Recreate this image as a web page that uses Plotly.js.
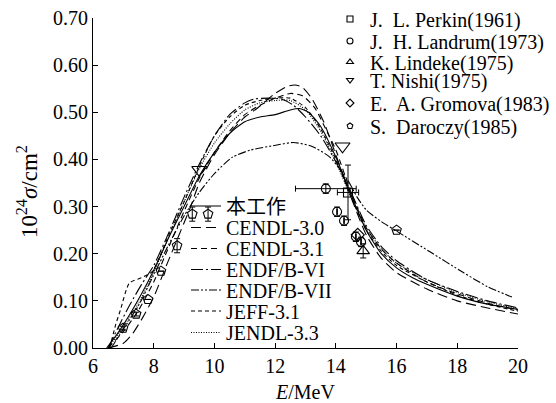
<!DOCTYPE html>
<html><head><meta charset="utf-8">
<script src="https://cdn.plot.ly/plotly-3.0.1.min.js"></script>
<style>html,body{margin:0;padding:0;background:#fff;}#chart{width:556px;height:403px;}</style>
</head><body><div id="chart"></div>
<script>
// ---------- evaluated curves (E in MeV, sigma in 1e-24 cm^2) ----------
const thisWorkE   = [6.45, 6.8, 7.2, 7.6, 8.0, 8.5, 9.0, 9.5, 10.0, 10.5, 11.0, 11.5, 12.0, 12.5, 12.8, 13.1, 13.5, 14.0, 14.5, 15.0, 15.5, 16.0, 16.5, 17.0, 18.0, 19.0, 20.0];
const thisWorkSig = [0, 0.03, 0.07, 0.115, 0.165, 0.235, 0.30, 0.365, 0.415, 0.455, 0.48, 0.49, 0.495, 0.505, 0.508, 0.50, 0.47, 0.405, 0.325, 0.25, 0.20, 0.17, 0.15, 0.135, 0.11, 0.093, 0.082];

const cendl30E   = [6.5, 7.0, 7.3, 7.65, 8.0, 8.45, 8.9, 9.2, 9.5, 10.0, 10.5, 11.0, 11.4, 12.0, 12.4, 12.65, 12.9, 13.2, 13.6, 14.0, 14.5, 15.0, 15.5, 16.0, 17.0, 18.0, 19.0, 20.0];
const cendl30Sig = [0, 0.01, 0.03, 0.066, 0.108, 0.18, 0.25, 0.297, 0.35, 0.41, 0.455, 0.49, 0.508, 0.54, 0.555, 0.558, 0.553, 0.53, 0.48, 0.41, 0.32, 0.24, 0.19, 0.16, 0.125, 0.10, 0.085, 0.072];

const cendl31E   = [6.5, 7.0, 7.5, 8.0, 8.5, 9.0, 9.5, 10.0, 10.5, 11.0, 11.5, 12.0, 12.5, 12.9, 13.3, 13.7, 14.0, 14.5, 15.0, 15.5, 16.0, 17.0, 18.0, 19.0, 20.0];
const cendl31Sig = [0, 0.035, 0.08, 0.14, 0.215, 0.29, 0.36, 0.415, 0.46, 0.495, 0.515, 0.53, 0.54, 0.535, 0.51, 0.46, 0.42, 0.33, 0.255, 0.21, 0.18, 0.14, 0.115, 0.095, 0.08];

const endf6E   = [6.5, 6.8, 7.2, 7.6, 8.0, 8.5, 9.0, 9.5, 10.0, 10.5, 11.0, 11.3, 11.8, 12.2, 12.6, 13.0, 13.5, 14.0, 14.5, 15.0, 15.5, 16.0, 17.0, 18.0, 19.0, 20.0];
const endf6Sig = [0, 0.04, 0.09, 0.135, 0.175, 0.245, 0.32, 0.39, 0.45, 0.495, 0.52, 0.528, 0.53, 0.528, 0.515, 0.49, 0.45, 0.395, 0.33, 0.26, 0.215, 0.185, 0.145, 0.12, 0.10, 0.085];

const endf7E   = [6.6, 7.0, 7.5, 8.0, 8.5, 9.0, 9.5, 10.0, 10.6, 11.2, 12.1, 12.6, 13.2, 13.8, 14.4, 14.7, 15.0, 15.5, 16.0, 17.1, 18.2, 19.0, 19.8];
const endf7Sig = [0, 0.04, 0.09, 0.155, 0.22, 0.28, 0.33, 0.37, 0.405, 0.42, 0.431, 0.436, 0.428, 0.405, 0.355, 0.32, 0.293, 0.268, 0.248, 0.204, 0.16, 0.13, 0.108];

const jeffE   = [6.55, 6.75, 6.9, 7.2, 7.6, 7.95, 8.5, 9.0, 9.5, 10.0, 10.5, 11.0, 11.5, 12.0, 12.5, 13.0, 13.5, 14.0, 14.5, 15.0, 15.5, 16.0, 17.0, 18.0, 19.0, 20.0];
const jeffSig = [0, 0.05, 0.08, 0.138, 0.149, 0.162, 0.24, 0.31, 0.385, 0.45, 0.49, 0.515, 0.525, 0.53, 0.53, 0.51, 0.465, 0.40, 0.32, 0.25, 0.205, 0.175, 0.14, 0.112, 0.093, 0.078];

const jendlE   = [6.5, 7.0, 7.5, 8.0, 8.5, 9.0, 9.5, 10.0, 10.5, 11.0, 11.5, 12.0, 12.5, 13.0, 13.5, 14.0, 14.5, 15.0, 15.5, 16.0, 17.0, 18.0, 19.0, 20.0];
const jendlSig = [0, 0.045, 0.095, 0.16, 0.235, 0.31, 0.38, 0.435, 0.475, 0.505, 0.52, 0.525, 0.525, 0.505, 0.46, 0.395, 0.32, 0.255, 0.21, 0.18, 0.145, 0.118, 0.098, 0.083];

// ---------- experimental data ----------
const perkinE = [14.4], perkinSig = [0.33], perkinErrY = [0.058], perkinErrX = [0.35];
const landrumE = [13.67, 14.04, 14.27, 14.66, 14.83];
const landrumSig = [0.338, 0.289, 0.270, 0.236, 0.225];
const landrumErrY = [0.01, 0.01, 0.01, 0.01, 0.01];
const landrumErrX = [1.0, 0, 0, 0, 0];
const lindekeE = [14.9], lindekeSig = [0.206], lindekeErrY = [0.015];
const nishiE = [9.5, 14.22], nishiSig = [0.378, 0.428];
const gromovaE = [14.72], gromovaSig = [0.24];
const daroczyE   = [6.99, 7.42, 7.81, 8.24, 8.77, 9.27, 9.79, 16.0];
const daroczySig = [0.042, 0.072, 0.103, 0.163, 0.217, 0.284, 0.284, 0.25];
const daroczyErrY = [0.004, 0.004, 0, 0, 0.015, 0.015, 0.015, 0];

const curveNames = ['本工作', 'CENDL-3.0', 'CENDL-3.1', 'ENDF/B-VI', 'ENDF/B-VII', 'JEFF-3.1', 'JENDL-3.3'];
const expNames = ['J.  L. Perkin(1961)', 'J.  H. Landrum(1973)', 'K. Lindeke(1975)', 'T. Nishi(1975)', 'E.  A. Gromova(1983)', 'S.  Daroczy(1985)'];

// ---------- layout helpers ----------
const PL = 93, PR = 518, PT = 18, PB = 348;
const px2x = p => (p - PL) / (PR - PL);
const px2y = p => (PB - p) / (PB - PT);
const FONT = '"Liberation Serif", "Times New Roman", "Noto Sans CJK SC", serif';

const curveX = [thisWorkE, cendl30E, cendl31E, endf6E, endf7E, jeffE, jendlE];
const curveY = [thisWorkSig, cendl30Sig, cendl31Sig, endf6Sig, endf7Sig, jeffSig, jendlSig];
const dashes = ['solid', '10px,5px', '6px,4px', '12px,3px,2px,3px', '8px,2px,2px,2px,2px,2px', '4px,3px', '1px,1.5px'];

const traces = [];
const layout = {
  width: 556, height: 403,
  margin: {l: PL, r: 556 - PR, t: PT, b: 403 - PB, pad: 0, autoexpand: false},
  paper_bgcolor: '#fff', plot_bgcolor: '#fff',
  font: {family: FONT, size: 20, color: '#000'},
  showlegend: true,
  xaxis: {
    range: [6, 20], dtick: 2, tick0: 6, ticks: 'inside', ticklen: 5, tickwidth: 1, tickcolor: '#000',
    showline: true, linecolor: '#000', linewidth: 1, showgrid: false, zeroline: false, automargin: false,
    tickfont: {family: FONT, size: 20},
    title: {text: '<i>E</i>/MeV', font: {family: FONT, size: 20}}
  },
  yaxis: {
    range: [0, 0.7], dtick: 0.1, tick0: 0, tickformat: '.2f', ticks: 'inside', ticklen: 5, tickwidth: 1, tickcolor: '#000',
    showline: true, linecolor: '#000', linewidth: 1, showgrid: false, zeroline: false, automargin: false,
    tickfont: {family: FONT, size: 20},
    title: {text: '10<sup>24</sup><i>σ</i>/cm<sup>2</sup>&nbsp;&nbsp;&nbsp;', font: {family: FONT, size: 23}}
  }
};

// curve legend rows (pixel centre y) and experimental legend rows
const curveRowY = [206, 227.5, 248.5, 269.5, 290, 311, 332.5];
const curveLegendLeft = 186;
const expRowY = [19, 41, 62, 80, 103, 126];
const expLegendLeft = 330;

let li = 1;
function legendKey(n) { return n === 1 ? 'legend' : 'legend' + n; }
function addLegend(xpx, ypx) {
  const key = legendKey(li++);
  layout[key] = {x: px2x(xpx), y: px2y(ypx), xanchor: 'left', yanchor: 'middle',
    bgcolor: 'rgba(0,0,0,0)', borderwidth: 0, font: {family: FONT, size: 20, color: '#000'},
    itemwidth: 30, tracegroupgap: 0};
  return key;
}

for (let i = 0; i < curveNames.length; i++) {
  traces.push({x: curveX[i], y: curveY[i], name: curveNames[i], mode: 'lines', type: 'scatter',
    line: {color: '#000', width: 1.1, dash: dashes[i], shape: 'spline', smoothing: 0.6},
    legend: addLegend(curveLegendLeft, curveRowY[i]), hoverinfo: 'skip'});
}

const mk = (sym, size) => ({symbol: sym, size: size, color: '#000', line: {color: '#000', width: 1.1}});
const eb = (arr) => ({type: 'data', array: arr, visible: true, color: '#000', thickness: 1, width: 3});
const expData = [
  {x: perkinE, y: perkinSig, sym: 'square-open', size: 9, ey: perkinErrY, ex: perkinErrX},
  {x: landrumE, y: landrumSig, sym: 'circle-open', size: 9, ey: landrumErrY, ex: landrumErrX},
  {x: lindekeE, y: lindekeSig, sym: 'triangle-up-open', size: 11, ey: lindekeErrY},
  {x: nishiE, y: nishiSig, sym: 'triangle-down-open', size: 13},
  {x: gromovaE, y: gromovaSig, sym: 'diamond-open', size: 10},
  {x: daroczyE, y: daroczySig, sym: 'pentagon-open', size: 10, ey: daroczyErrY}
];
for (let i = 0; i < expData.length; i++) {
  const d = expData[i];
  const t = {x: d.x, y: d.y, name: expNames[i], mode: 'markers', type: 'scatter', showlegend: false,
    marker: mk(d.sym, d.size), hoverinfo: 'skip'};
  if (d.ey) t.error_y = eb(d.ey);
  if (d.ex) t.error_x = eb(d.ex);
  traces.push(t);
  // legend-only entry with a smaller symbol
  traces.push({x: [null], y: [null], name: expNames[i], mode: 'markers', type: 'scatter',
    marker: mk(d.sym, 6), legend: addLegend(expLegendLeft, expRowY[i]), hoverinfo: 'skip'});
}

Plotly.newPlot('chart', traces, layout, {staticPlot: true});
</script></body></html>
